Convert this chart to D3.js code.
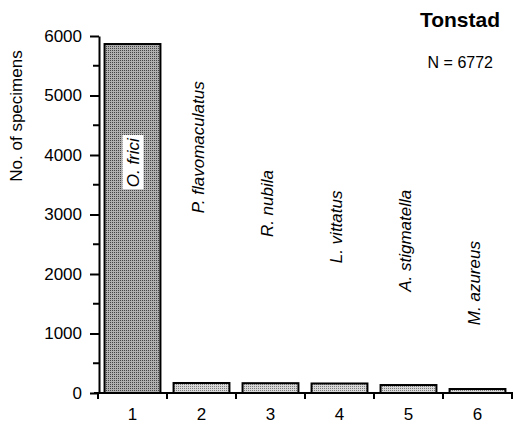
<!DOCTYPE html>
<html>
<head>
<meta charset="utf-8">
<script src="https://cdn.jsdelivr.net/npm/d3@7"></script>
<style>
  body { margin: 0; background: #fff; }
  svg { display: block; font-family: "Liberation Sans", Arial, sans-serif; }
  .axis line, .axis path { stroke: #000; stroke-width: 2; }
  .tick-label { font-size: 17px; }
  .sp { font-size: 17px; font-style: italic; }
</style>
</head>
<body>
<div id="chart"></div>
<script>
// Categories (rank) and the species that hold each rank
const ranks = [1, 2, 3, 4, 5, 6];
const species = ["O. frici", "P. flavomaculatus", "R. nubila", "L. vittatus", "A. stigmatella", "M. azureus"];
// Number of specimens
const counts = [5865, 168, 165, 160, 134, 67];
// Height (in specimen units) at which each species label starts
const labelBase = [3870, 3020, 2620, 2180, 1700, 1140];
const yTicks = [0, 1000, 2000, 3000, 4000, 5000, 6000];
const yMinorTicks = [500, 1500, 2500, 3500, 4500, 5500];

const width = 514, height = 426;

const svg = d3.select("#chart").append("svg")
  .attr("width", width)
  .attr("height", height);

// Stipple fills, a darker one for the big bar
const defs = svg.append("defs");
makeStipple("dots-dark", "#b0b0b0", "#444");
makeStipple("dots-light", "#d8d8d8", "#7a7a7a");

function makeStipple(id, bg, dot) {
  const p = defs.append("pattern")
    .attr("id", id)
    .attr("width", 2).attr("height", 2)
    .attr("patternUnits", "userSpaceOnUse");
  p.append("rect").attr("width", 2).attr("height", 2).attr("fill", bg);
  p.append("rect").attr("width", 1).attr("height", 1).attr("fill", dot);
}

const x = d3.scaleBand()
  .domain(ranks)
  .range([98, 512])
  .paddingInner(0.19)
  .paddingOuter(0.095);

const y = d3.scaleLinear()
  .domain([0, 6000])
  .range([393, 36]);

// Bars
svg.append("g")
  .selectAll("rect")
  .data(ranks)
  .enter()
  .append("rect")
  .attr("x", d => x(d))
  .attr("y", (d, i) => y(counts[i]))
  .attr("width", x.bandwidth())
  .attr("height", (d, i) => y(0) - y(counts[i]))
  .attr("fill", (d, i) => i === 0 ? "url(#dots-dark)" : "url(#dots-light)")
  .attr("stroke", "#000")
  .attr("stroke-width", 2);

// Y axis: major ticks every 1000
const yAxis = d3.axisLeft(y)
  .tickValues(yTicks)
  .tickFormat(d3.format("d"))
  .tickSize(9)
  .tickPadding(8)
  .tickSizeOuter(0);

const gy = svg.append("g")
  .attr("class", "axis")
  .attr("transform", "translate(99,0)")
  .call(yAxis);
gy.selectAll("text").attr("class", "tick-label").attr("fill", "#000");

// Minor ticks at the half thousands
svg.append("g")
  .selectAll("line")
  .data(yMinorTicks)
  .enter()
  .append("line")
  .attr("stroke", "#000")
  .attr("stroke-width", 2)
  .attr("x1", 93).attr("x2", 99)
  .attr("y1", d => y(d)).attr("y2", d => y(d));

// X axis: ticks at the band edges, labels at band centres
const step = x.step();
const edges = ranks.map(d => x(d) - (step - x.bandwidth()) / 2).concat([512]);

const gx = svg.append("g").attr("class", "axis");
gx.append("line")
  .attr("x1", 94).attr("x2", 513)
  .attr("y1", y(0)).attr("y2", y(0));
gx.selectAll(".xt")
  .data(edges)
  .enter()
  .append("line")
  .attr("class", "xt")
  .attr("x1", d => d).attr("x2", d => d)
  .attr("y1", y(0)).attr("y2", y(0) + 6);

svg.append("g")
  .selectAll("text")
  .data(ranks)
  .enter()
  .append("text")
  .attr("class", "tick-label")
  .attr("x", d => x(d) + x.bandwidth() / 2)
  .attr("y", 420)
  .attr("text-anchor", "middle")
  .text(d => d);

// Y axis title
svg.append("text")
  .attr("transform", "translate(22,116) rotate(-90)")
  .attr("text-anchor", "middle")
  .style("font-size", "17px")
  .text("No. of specimens");

// Species labels, rotated
const labels = svg.append("g");
ranks.forEach((d, i) => {
  const cx = x(d) + x.bandwidth() / 2 - (i === 0 ? 0 : 4);
  const t = labels.append("text")
    .attr("class", "sp")
    .attr("transform", "translate(" + (cx + 6) + "," + y(labelBase[i]) + ") rotate(-90)")
    .attr("text-anchor", i === 0 ? "middle" : "start")
    .text(species[i]);
  if (i === 0) {
    // White box behind the label inside the big bar
    const bb = t.node().getBBox();
    labels.insert("rect", "text")
      .attr("transform", "translate(" + (cx + 6) + "," + y(labelBase[i]) + ") rotate(-90)")
      .attr("x", bb.x - 2).attr("y", bb.y - 1)
      .attr("width", bb.width + 4).attr("height", bb.height + 2)
      .attr("fill", "#fff");
  }
});

// Title and sample size
svg.append("text")
  .attr("x", 500).attr("y", 27)
  .attr("text-anchor", "end")
  .style("font-size", "21px")
  .style("font-weight", "bold")
  .text("Tonstad");

svg.append("text")
  .attr("x", 493).attr("y", 68)
  .attr("text-anchor", "end")
  .style("font-size", "16px")
  .text("N = 6772");
</script>
</body>
</html>
